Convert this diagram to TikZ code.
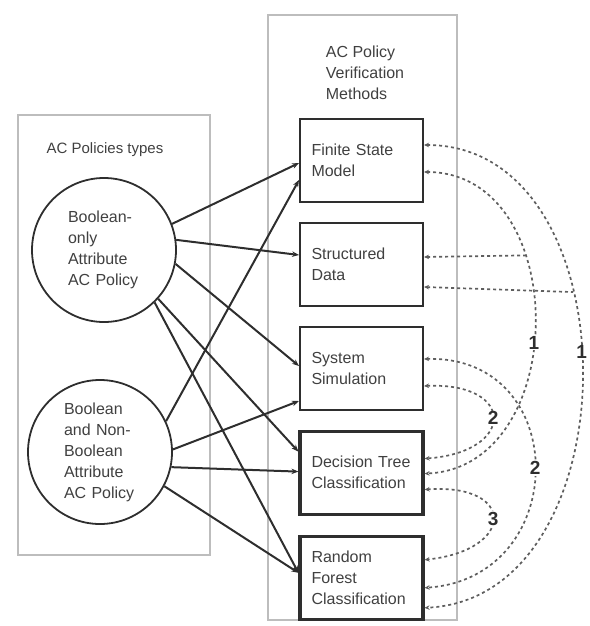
\documentclass[tikz,border=0pt]{standalone}
\usepackage{fontspec}
\setmainfont{Liberation Sans}
\usepackage{tikz}
\usetikzlibrary{arrows.meta,positioning,calc}
\definecolor{ink}{HTML}{2E2E2E}
\definecolor{txt}{HTML}{404040}
\definecolor{zonegray}{HTML}{BDBDBD}
\definecolor{dashgray}{HTML}{5E5E5E}

\begin{document}
\begin{tikzpicture}[x=1pt,y=-1pt,font=\fontsize{16}{21}\selectfont,text=txt,
  pol/.style={draw=ink,line width=1.8pt,circle,minimum size=144pt,align=left,text width=72pt,inner sep=0pt},
  meth/.style={draw=ink,line width=#1,minimum width=123pt,minimum height=83pt,align=left,text width=100pt},
  meth/.default=2pt,
  zone/.style={draw=zonegray,line width=1.8pt},
  arr/.style={-{Stealth[length=7pt,width=5.5pt]},draw=ink,line width=2pt},
  link/.style={{Stealth[length=5pt,width=4.5pt]}-{Stealth[length=5pt,width=4.5pt]},draw=dashgray,line width=1.7pt,dash pattern=on 3pt off 3pt},
  half/.style={{Stealth[length=5pt,width=4.5pt]}-,draw=dashgray,line width=1.7pt,dash pattern=on 3pt off 3pt},
  num/.style={fill=white,inner sep=1pt,text=ink,font=\fontsize{19}{19}\selectfont\bfseries}]
\useasboundingbox (0,0) rectangle (589,626);
% AC policies
\draw[zone] (18,115) rectangle (210,555);
\node (ptitle) at (105,150) {\fontsize{15}{18}\selectfont AC Policies types};
\node[pol] (bonly) at (104,250) {Boolean-\\only\\Attribute\\AC Policy};
\node[pol] (bmix) at (100,452) {Boolean\\and Non-\\Boolean\\Attribute\\AC Policy};
% verification methods
\draw[zone] (268,15) rectangle (457,620);
\node[align=left] (vtitle) at (365,73) {AC Policy\\Verification\\Methods};
\node[meth] (fsm) at (361.5,160) {Finite State\\Model};
\node[meth,below=19pt of fsm] (sd) {Structured\\Data};
\node[meth,below=19pt of sd] (ss) {System\\Simulation};
\node[meth=3.2pt,below=19pt of ss] (dt) {Decision Tree\\Classification};
\node[meth=3.2pt,below=19pt of dt] (rf) {Random\\Forest\\Classification};
% policy -> method
\draw[arr] (bonly.21) -- ($(fsm.west)+(0,3)$);
\draw[arr] (bonly.8) -- ($(sd.west)+(0,-9)$);
\draw[arr] (bonly.-11) -- ($(ss.west)+(0,-2)$);
\draw[arr] (bonly.-42) -- ($(dt.west)+(0,-21)$);
\draw[arr] (bonly.-46) -- ($(rf.west)+(0,-5)$);
\draw[arr] (bmix.25) -- ($(fsm.west)+(0,20)$);
\draw[arr] (bmix.2) -- ($(ss.west)+(0,33)$);
\draw[arr] (bmix.-12) -- ($(dt.west)+(0,-1)$);
\draw[arr] (bmix.-28) -- ($(rf.west)+(0,-5)$);
% dashed links between methods
\draw[link] ($(fsm.east)+(0,-15)$) .. controls (635,145) and (635,598) .. coordinate[pos=0.38] (jout) node[num,pos=0.47] {1} ($(rf.east)+(0,30)$);
\draw[link] ($(fsm.east)+(0,12)$) .. controls (572,172) and (572,467) .. coordinate[pos=0.35] (jin) node[num,pos=0.55] {1} ($(dt.east)+(0,1)$);
\draw[link] ($(ss.east)+(0,-9)$) .. controls (572,355) and (572,578) .. node[num,pos=0.5] {2} ($(rf.east)+(0,10)$);
\draw[link] ($(ss.east)+(0,18)$) .. controls (516,382) and (516,452) .. node[num,pos=0.5] {2} ($(dt.east)+(0,-14)$);
\draw[link] ($(dt.east)+(0,17)$) .. controls (516,483) and (516,550) .. node[num,pos=0.5] {3} ($(rf.east)+(0,-18)$);
\draw[half] ($(sd.east)+(0,-7)$) -- (jin);
\draw[half] ($(sd.east)+(0,23)$) -- (jout);
\end{tikzpicture}
\end{document}
